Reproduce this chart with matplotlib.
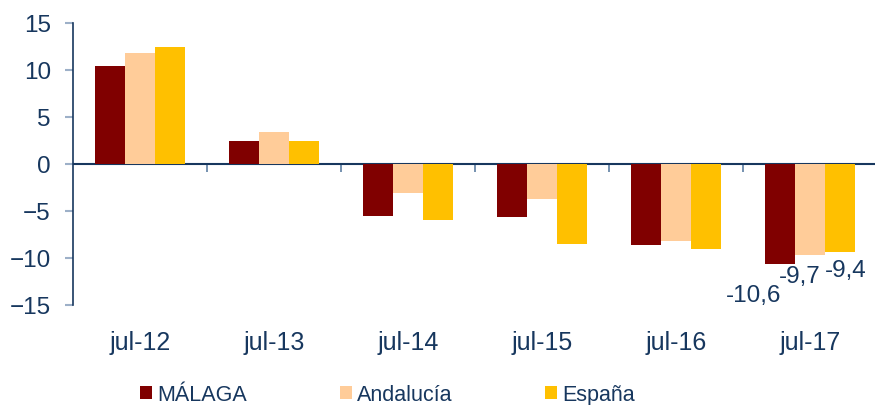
import matplotlib.pyplot as plt
import numpy as np

categories = ["jul-12", "jul-13", "jul-14", "jul-15", "jul-16", "jul-17"]
malaga = [10.4, 2.4, -5.5, -5.6, -8.6, -10.6]
andalucia = [11.8, 3.4, -3.1, -3.7, -8.2, -9.7]
espana = [12.4, 2.4, -6.0, -8.5, -9.0, -9.4]
series_names = ["MÁLAGA", "Andalucía", "España"]
colors = ["#800000", "#FFCC99", "#FFC000"]

navy = "#17375E"
plt.rcParams['font.family'] = ['Liberation Sans', 'DejaVu Sans']

fig = plt.figure(figsize=(8.75, 4.06), dpi=100)
ax = fig.add_axes([73 / 875, 1 - 306 / 406, 1 - 73 / 875, (306 - 24) / 406])

x = np.arange(len(categories))
w = 0.223
bars = []
for i, (vals, name, c) in enumerate(zip([malaga, andalucia, espana], series_names, colors)):
    b = ax.bar(x + (i - 1) * w, vals, width=w, color=c, label=name)
    bars.append(b)

# data labels for last period
offsets = [(-27, -31), (-10, -21), (6, -18)]
for b, vals, (dx, dy) in zip(bars, [malaga, andalucia, espana], offsets):
    rect = b[-1]
    v = vals[-1]
    ax.annotate(f"{v:.1f}".replace(".", ","),
                (rect.get_x() + rect.get_width() / 2, v),
                xytext=(dx, dy), textcoords="offset pixels",
                ha="center", va="center", fontsize=17.5, color=navy)

ax.set_ylim(-15, 15)
ax.set_xlim(-0.5, 5.5 - 2 / 134)
ax.set_yticks(range(-15, 16, 5))
ax.tick_params(axis="y", length=6, width=1.5, color="#9DB0C8", labelsize=17.5,
               labelcolor=navy, pad=10)

ax.set_xticks(x)
ax.set_xticklabels(categories)
ax.tick_params(axis="x", length=0, labelsize=18, labelcolor=navy, pad=18)

for s in ["top", "right", "bottom"]:
    ax.spines[s].set_visible(False)
ax.spines["left"].set_color(navy)
ax.spines["left"].set_linewidth(1.2)

# zero line with category separator ticks
sec = ax.secondary_xaxis(0.5)
sec.set_xticks(np.arange(0.5, len(categories) - 1, 1.0))
sec.set_xticklabels([])
sec.tick_params(axis="x", direction="in", length=6, width=1.2, color="#5E7FA3")
sec.spines["bottom"].set_color(navy)
sec.spines["top"].set_color(navy)
sec.spines["top"].set_linewidth(1.5)
sec.spines["bottom"].set_linewidth(1.5)

fig.legend(handles=bars, labels=series_names, loc="center", bbox_to_anchor=(0.443, 1 - 396 / 406),
           ncol=3, frameon=False, fontsize=15.5, labelcolor=navy,
           handlelength=0.55, handleheight=0.55, handletextpad=0.25, columnspacing=4.3)

fig.savefig("out.png", dpi=100)
